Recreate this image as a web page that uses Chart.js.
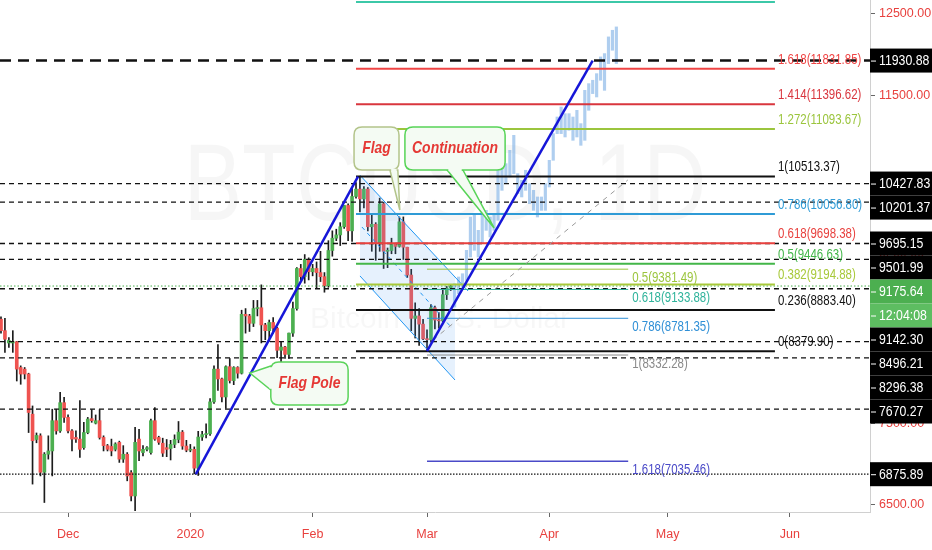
<!DOCTYPE html>
<html><head><meta charset="utf-8">
<script src="https://cdn.jsdelivr.net/npm/chart.js@4.4.1/dist/chart.umd.min.js"></script>
<style>html,body{margin:0;padding:0;background:#fff}#wrap{width:932px;height:550px;position:relative}</style>
</head><body><div id="wrap"><canvas id="c"></canvas></div>
<script>
// ---------------- DATA ----------------
// daily candles, index 0 = 2019-11-14
const opens = [8770,8630,8480,8480,8495,8180,8160,8100,7610,7300,7345,6900,7120,7160,7530,7405,7750,7570,7405,7325,7305,7200,7385,7555,7500,7530,7325,7225,7215,7180,7265,7060,7120,6895,6610,7305,7140,7180,7140,7530,7325,
7255,7200,7190,7240,7300,7390,7220,7170,7180,6950,7330,7360,7370,7760,8160,8040,7820,8190,8020,8180,8110,8830,8810,8720,8900,8910,8700,8630,8730,8660,8390,8430,8340,8600,8900,9390,9290,9500,
9350,9390,9340,9290,9180,9610,9760,9800,9900,10160,9850,10270,10360,10240,10360,9900,9930,9700,10180,9600,9610,9690,9660,9960,9650,9310,8780,8810,8710,8530,8520,8910,8760,8750,9070,9150];
const highs = [8800,8780,8545,8630,8500,8200,8180,8110,7710,7380,7370,7140,7345,7670,7670,7875,7815,7600,7420,7405,7775,7510,7570,7665,7600,7665,7345,7240,7305,7260,7280,7225,7140,6920,7450,7425,7225,7215,7550,7690,7340,
7316,7300,7290,7357,7520,7410,7290,7240,7210,7400,7400,7490,7800,8200,8460,8050,8200,8290,8190,8190,8880,8900,8830,9000,9000,9190,8720,8760,8790,8670,8500,8440,8600,8980,9400,9440,9560,9520,
9440,9470,9600,9340,9730,9850,9870,9950,10160,10180,10380,10440,10513,10390,10380,10050,9950,10250,10200,9640,9760,9700,10020,10020,9650,9380,8970,8900,8770,8640,8950,8930,8850,9140,9170,9190];
const lows = [8600,8365,8425,8365,8015,7975,8040,7385,6755,7260,6855,6530,7060,6855,7365,7385,7510,7380,7160,7265,7080,7180,7370,7510,7490,7305,7160,7160,7100,7160,7020,7020,6795,6550,6430,7040,7100,7160,7120,7290,7240,
7092,7090,7050,7200,7260,7180,7150,7150,6880,6860,7290,7320,7350,7740,7900,7760,7680,7990,7970,8050,8100,8600,8620,8680,8810,8480,8520,8500,8600,8300,8240,8290,8290,8560,8880,9250,9210,9250,
9300,9150,9230,9100,9160,9540,9730,9670,9880,9730,9720,10250,10080,10130,9850,9600,9490,9600,9390,9400,9570,9570,9650,9500,9280,8630,8540,8450,8520,8380,8490,8650,8660,8740,9010,9120];
const closes = [8630,8525,8510,8495,8160,8100,8100,7630,7285,7350,6900,7120,7160,7530,7405,7750,7570,7405,7305,7305,7180,7385,7550,7530,7530,7325,7225,7180,7160,7245,7060,7120,6855,6610,7265,7160,7180,7200,7530,7305,7265,
7133,7180,7240,7300,7390,7220,7170,7180,6950,7330,7360,7370,7760,8160,8040,7820,8190,8020,8180,8110,8830,8810,8720,8900,8910,8700,8630,8730,8660,8390,8430,8340,8600,8900,9390,9290,9500,9350,
9390,9340,9290,9180,9610,9760,9800,9900,10160,9850,10270,10360,10240,10360,9900,9930,9700,10180,9600,9610,9690,9660,9960,9650,9310,8780,8810,8710,8530,8520,8910,8760,8750,9070,9150,9175.64];

// projected (bars pattern) ranges, starting at index projStart
const projStart = 115;
const projLow  = [8919,9082,9163,9245,9530,9612,9530,9693,9856,9775,9856,9978,10345,10426,10508,10549,10304,10264,10345,10182,10100,10019,10100,10100,10386,10712,11038,11038,10997,11079,10956,10997,10895,10956,11323,11527,11486,11690,11567,11894,12057,11894];
const projHigh = [9204,9286,9326,9612,10019,10060,9856,10100,10100,10019,10060,10712,10712,10671,10834,11017,10549,10467,10590,10427,10345,10264,10264,10427,10712,11038,11241,11364,11282,11282,11241,11323,11160,11567,11649,11690,11771,11975,12016,12220,12301,12342];

// x-axis month ticks (candle index)
const monthTickIndex  = [17,48,79,108,139,169,200];
const monthTickLabels = ['Dec','2020','Feb','Mar','Apr','May','Jun'];
const yTickValues = [6500,7500,8500,9500,10500,11500,12500];

// Fibonacci retracement (main)
const fib1Levels = [2,1.618,1.414,1.272,1,0.786,0.618,0.5,0.382,0.236,0];
const fib1Values = [12646.84,11831.85,11396.62,11093.67,10513.37,10056.80,9698.38,9446.63,9194.88,8883.40,8379.90];
const fib1Range = [90,196.2];
// Fibonacci (second)
const fib2Levels = [0.5,0.618,0.786,1,1.618];
const fib2Values = [9381.49,9133.88,8781.35,8332.28,7035.46];
const fib2Range = [108,159];

// horizontal price lines
const priceLineValues = [11930.88,10427.83,10201.37,9695.15,9501.99,9142.30,8496.21,8296.38,7670.27];
const dottedLineValue = 6875.89;
const currentPrice = 9175.64;
const clockText = '12:04:08';

// trend lines [x0,x1],[y0,y1]
const poleLineX = [49.4,90.5],   poleLineY = [6876,10513.37];
const breakLineX = [108,150],    breakLineY = [8379.90,11930.88];
const guideLineX = [109.5,158.9], guideLineY = [8516,10471];
const chanUpperX = [91,118.4],   chanUpperY = [10530,9115];
const chanLowerX = [91,115.1],   chanLowerY = [9299,8027];
const chanMidX = [91.5,114.3],   chanMidY = [9897,8663];
const shadeUpperX = [91,115.1],  shadeUpperY = [10530,9286];

const watermarkTitle = 'BTCUSD, 1D';
const watermarkSub = 'Bitcoin / U.S. Dollar';

// ---------------- STYLE ----------------
const X_MIN = -0.25, X_MAX = 220.3, Y_MIN = 6414, Y_MAX = 12671;
const UP = '#4caf50', DOWN = '#ef5350';
const fib1Colors = ['#3cc8a8','#ef4444','#d9363e','#9bc53d','#111111','#2f9bd6','#e8413e','#43b649','#a8c93a','#111111','#111111'];
const fib2Colors = ['#9bc53d','#2fb39b','#2f8fd6','#8a8a8a','#4a4ac8'];

function hasFont(name){
  const c=document.createElement('canvas').getContext('2d');
  c.font='20px monospace'; const a=c.measureText('abcdefghij0123456').width;
  c.font="20px '"+name+"', monospace"; const b=c.measureText('abcdefghij0123456').width;
  return Math.abs(a-b)>0.5;
}
const NARROW = hasFont('Liberation Sans Narrow');
const BASE = NARROW ? "'Liberation Sans Narrow'" : "'Liberation Sans'";
const SQ = NARROW ? 1 : 0.82;
function txt(ctx,t,x,y,size,style,align){
  ctx.save();
  ctx.font=(style||'')+' '+size+'px '+BASE;
  ctx.textAlign=align||'left'; ctx.textBaseline='middle';
  ctx.translate(x,y); ctx.scale(SQ,1); ctx.fillText(t,0,0);
  ctx.restore();
}

function seg(xs,ys,color,width,dash,order){
  return {type:'line',data:[{x:xs[0],y:ys[0]},{x:xs[1],y:ys[1]}],borderColor:color,borderWidth:width,borderDash:dash||[],pointRadius:0,fill:false,order:order||2,tension:0};
}

const idx = opens.map((_,i)=>i);
const datasets = [];
// candles
datasets.push({type:'bar',data:idx.map(i=>({x:i,y:[lows[i],highs[i]]})),backgroundColor:'#1c1c1c',barThickness:1,grouped:false,order:30});
datasets.push({type:'bar',data:idx.map(i=>({x:i,y:[opens[i],closes[i]]})),backgroundColor:idx.map(i=>closes[i]>=opens[i]?UP:DOWN),barThickness:3,minBarLength:1,grouped:false,order:29});
// projection bars
datasets.push({type:'bar',data:projLow.map((l,k)=>({x:projStart+k,y:[l,projHigh[k]]})),backgroundColor:'rgba(110,165,225,0.55)',barThickness:2.5,grouped:false,order:28});
// channel shade
datasets.push({type:'line',data:[{x:shadeUpperX[0],y:shadeUpperY[0]},{x:shadeUpperX[1],y:shadeUpperY[1]}],borderWidth:0,pointRadius:0,fill:'+1',backgroundColor:'rgba(100,170,240,0.16)',order:27});
datasets.push({type:'line',data:[{x:chanLowerX[0],y:chanLowerY[0]},{x:chanLowerX[1],y:chanLowerY[1]}],borderColor:'#2196f3',borderWidth:1,pointRadius:0,fill:false,order:26});
datasets.push(seg(chanUpperX,chanUpperY,'#2196f3',1,[],26));
datasets.push(seg(chanMidX,chanMidY,'#2196f3',1,[4,4],26));
// price lines
priceLineValues.forEach((v,k)=>{
  datasets.push(seg([X_MIN,X_MAX],[v,v],'#111',k===0?2.6:1.3,k===0?[11,7]:[5,4],5));
});
datasets.push(seg([X_MIN,X_MAX],[dottedLineValue,dottedLineValue],'#111',1.3,[1.5,1.5],5));
datasets.push(seg([X_MIN,X_MAX],[currentPrice,currentPrice],'#4caf50',1,[1.5,2],5));
// fib lines
fib1Values.forEach((v,k)=>datasets.push(seg(fib1Range,[v,v],fib1Colors[k],2,[],4)));
fib2Values.forEach((v,k)=>datasets.push(seg(fib2Range,[v,v],fib2Colors[k],k===4?1.5:1,[],4)));
// trend lines
datasets.push(seg(guideLineX,guideLineY,'#9a9a9a',1,[5,5],3));
datasets.push(seg(poleLineX,poleLineY,'#1616d8',2.5,[],1));
datasets.push(seg(breakLineX,breakLineY,'#1616d8',2.5,[],1));

// callouts (data coords)
const callouts = [
  {text:'Flag Pole', box:[68.4,8247,88.0,7722], tip:[63.1,8113], base:[[68.4,8198],[68.4,7905]], border:'#5ad35a'},
  {text:'Flag', box:[89.5,11119,100.9,10594], tip:[101.1,10105], base:[[98.6,10594],[100.6,10594]], border:'#b3c48a'},
  {text:'Continuation', box:[102.4,11119,127.8,10594], tip:[125.0,9885], base:[[113.1,10594],[117.1,10594]], border:'#57d457'}
];

function rrect(ctx,x,y,w,h,r){
  ctx.beginPath();
  ctx.moveTo(x+r,y);ctx.lineTo(x+w-r,y);ctx.quadraticCurveTo(x+w,y,x+w,y+r);
  ctx.lineTo(x+w,y+h-r);ctx.quadraticCurveTo(x+w,y+h,x+w-r,y+h);
  ctx.lineTo(x+r,y+h);ctx.quadraticCurveTo(x,y+h,x,y+h-r);
  ctx.lineTo(x,y+r);ctx.quadraticCurveTo(x,y,x+r,y);ctx.closePath();
}

const overlay = {
  id:'overlay',
  beforeDatasetsDraw(chart){
    const {ctx,chartArea:a}=chart;
    ctx.save();
    ctx.beginPath();ctx.rect(a.left,a.top,a.right-a.left,a.bottom-a.top);ctx.clip();
    ctx.fillStyle='rgba(0,0,0,0.035)';
    ctx.font="110px 'Liberation Sans'";ctx.textAlign='center';ctx.textBaseline='middle';
    ctx.save();ctx.translate(445,190);ctx.scale(0.8,1);ctx.fillText(watermarkTitle,0,0);ctx.restore();
    ctx.font="30px 'Liberation Sans'";
    ctx.fillStyle='rgba(0,0,0,0.03)';
    ctx.fillText(watermarkSub,440,320);
    ctx.restore();
  },
  afterDatasetsDraw(chart){
    const {ctx,chartArea:a,scales:{x:xs,y:ys}}=chart;
    ctx.save();
    ctx.beginPath();ctx.rect(a.left,a.top,a.right-a.left,a.bottom-a.top);ctx.clip();
    const fx1 = xs.getPixelForValue(fib1Range[1])+3;
    fib1Values.forEach((v,k)=>{ctx.fillStyle=fib1Colors[k];txt(ctx,fib1Levels[k]+'('+v.toFixed(2)+')',fx1,ys.getPixelForValue(v)-9,14,'','left');});
    const fx2 = xs.getPixelForValue(fib2Range[1])+4;
    fib2Values.forEach((v,k)=>{ctx.fillStyle=fib2Colors[k];txt(ctx,fib2Levels[k]+'('+v.toFixed(2)+')',fx2,ys.getPixelForValue(v)+9,14,'','left');});
    const fill='#f4fbf3';
    callouts.forEach(c=>{
      const x0=xs.getPixelForValue(c.box[0]),y0=ys.getPixelForValue(c.box[1]),x1=xs.getPixelForValue(c.box[2]),y1=ys.getPixelForValue(c.box[3]);
      const tx=xs.getPixelForValue(c.tip[0]),ty=ys.getPixelForValue(c.tip[1]);
      const b=c.base.map(p=>[xs.getPixelForValue(p[0]),ys.getPixelForValue(p[1])]);
      ctx.lineWidth=1.5;ctx.strokeStyle=c.border;ctx.fillStyle=fill;
      ctx.beginPath();ctx.moveTo(b[0][0],b[0][1]);ctx.lineTo(tx,ty);ctx.lineTo(b[1][0],b[1][1]);ctx.closePath();ctx.fill();ctx.stroke();
      rrect(ctx,x0,y0,x1-x0,y1-y0,8);ctx.fill();ctx.stroke();
      const dx=b[1][0]-b[0][0],dy=b[1][1]-b[0][1],L=Math.hypot(dx,dy)||1;
      ctx.strokeStyle=fill;ctx.lineWidth=2.4;ctx.beginPath();
      ctx.moveTo(b[0][0]+dx/L*1.2,b[0][1]+dy/L*1.2);ctx.lineTo(b[1][0]-dx/L*1.2,b[1][1]-dy/L*1.2);ctx.stroke();
      ctx.fillStyle='#e53935';
      txt(ctx,c.text,(x0+x1)/2,(y0+y1)/2,17,'italic bold','center');
    });
    ctx.restore();
  },
  afterDraw(chart){
    const {ctx,chartArea:a,scales:{y:ys}}=chart;
    const items=priceLineValues.map(v=>({v,t:v.toFixed(2),bg:'#000'}));
    items.push({v:dottedLineValue,t:dottedLineValue.toFixed(2),bg:'#000'});
    items.push({v:currentPrice,t:currentPrice.toFixed(2),bg:'#4caf50',k:0});
    items.push({v:currentPrice,t:clockText,bg:'#5dbd61',k:1});
    items.forEach(it=>{it.py=ys.getPixelForValue(it.v);});
    items.sort((p,q)=>(p.py-q.py)||((p.k||0)-(q.k||0)));
    let prev=-1e9;
    const H=24,STEP=24;
    items.forEach(it=>{
      const y=Math.max(it.py,prev+STEP);prev=y;
      ctx.fillStyle=it.bg;ctx.fillRect(a.right,y-H/2,932-a.right,H);
      ctx.strokeStyle='#fff';ctx.lineWidth=1;ctx.beginPath();ctx.moveTo(a.right+1,y+0.5);ctx.lineTo(a.right+6,y+0.5);ctx.stroke();
      ctx.fillStyle='#fff';txt(ctx,it.t,a.right+9,y+0.5,15,'','left');
    });
  }
};

const axisFont = {family:BASE.replace(/'/g,''),size:NARROW?15:12.5};

new Chart(document.getElementById('c'),{
  type:'bar',
  data:{datasets},
  plugins:[overlay],
  options:{
    responsive:true,maintainAspectRatio:false,animation:false,events:[],
    layout:{padding:0},
    plugins:{legend:{display:false},tooltip:{enabled:false}},
    scales:{
      x:{type:'linear',min:X_MIN,max:X_MAX,offset:false,
        afterBuildTicks:s=>{s.ticks=monthTickIndex.map(v=>({value:v}));},
        ticks:{autoSkip:false,maxRotation:0,color:'#e8413e',padding:10,font:axisFont,
          callback:v=>{const k=monthTickIndex.indexOf(v);return k>=0?monthTickLabels[k]:'';}},
        grid:{drawOnChartArea:false,offset:false,tickLength:5,color:'#666'},
        border:{display:true,color:'#d0d0d0'},
        afterFit:s=>{s.height=38;s.paddingLeft=0;s.paddingRight=0;s.paddingTop=0;s.paddingBottom=0;}},
      y:{type:'linear',position:'right',min:Y_MIN,max:Y_MAX,
        afterBuildTicks:s=>{s.ticks=yTickValues.map(v=>({value:v}));},
        ticks:{color:'#e8413e',padding:4,font:axisFont,callback:v=>Number(v).toFixed(2)},
        grid:{drawOnChartArea:false,tickLength:5,color:'#666'},
        border:{display:true,color:'#d0d0d0'},
        afterFit:s=>{s.width=62;s.paddingTop=0;s.paddingBottom=0;s.paddingLeft=0;s.paddingRight=0;}}
    }
  }
});
</script></body></html>
